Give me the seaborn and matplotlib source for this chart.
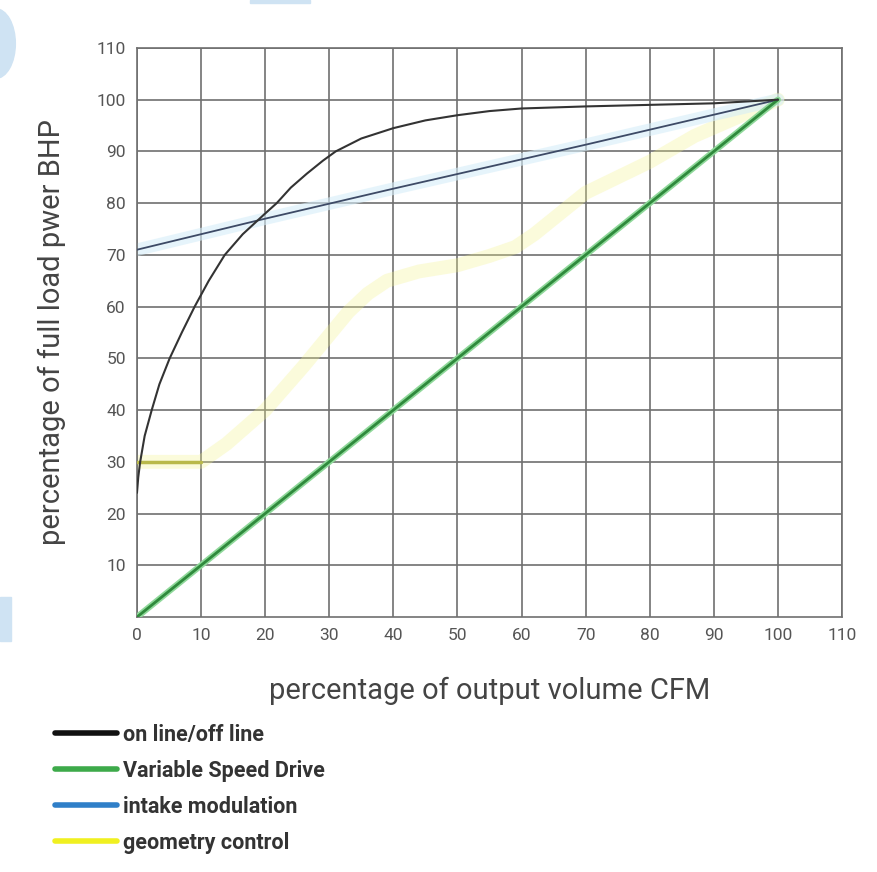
import pandas as pd
import matplotlib
matplotlib.use("Agg")
import matplotlib.pyplot as plt
import seaborn as sns
from matplotlib.lines import Line2D
from matplotlib.patches import Rectangle, Ellipse

# values
onoff_x = [0, 0.2, 0.5, 1.2, 2.3, 3.5, 5.1, 7, 9, 11.2, 13.7, 16.5, 20, 21.8, 24, 26.5,
           29, 31, 35, 40, 45, 50, 55, 60, 70, 80, 90, 100]
onoff_y = [24, 27, 30, 35, 40, 45, 50, 55, 60, 65, 70, 74, 78, 80, 83, 85.7,
           88.2, 90, 92.5, 94.5, 96, 97, 97.8, 98.3, 98.7, 99, 99.3, 100]

vsd_x = [0, 100]
vsd_y = [0, 100]

intake_x = [0, 20, 40, 70, 100]
intake_y = [71, 77, 82.8, 91.3, 100]

geom_x = [0, 10, 14, 20, 26, 33, 36, 39, 44, 50, 55, 59, 62, 65, 70, 80, 87, 100]
geom_y = [30, 30, 33.5, 40, 48.5, 59, 62.5, 65, 66.8, 68, 69.8, 71.5, 74, 77, 82, 88, 93, 100]

ticks = list(range(0, 111, 10))
labels = ["on line/off line", "Variable Speed Drive", "intake modulation", "geometry control"]

sns.set_style("white")
plt.rcParams['font.family'] = ['Roboto', 'DejaVu Sans']

fig = plt.figure(figsize=(8.78, 8.72), dpi=100)
ax = fig.add_axes([0.156, 0.2924, 0.803, 0.6526])

onoff = pd.DataFrame({"x": onoff_x, "y": onoff_y})
vsd = pd.DataFrame({"x": vsd_x, "y": vsd_y})
intake = pd.DataFrame({"x": intake_x, "y": intake_y})
geom = pd.DataFrame({"x": geom_x, "y": geom_y})

# geometry control: pale wide band, olive flat start
sns.lineplot(data=geom, x="x", y="y", ax=ax, color="#f3f38a", alpha=0.3,
             linewidth=10, sort=False, zorder=2)
sns.lineplot(data=geom.iloc[:2], x="x", y="y", ax=ax, color="#b9b94a",
             linewidth=2.5, zorder=3)

# intake modulation: light blue glow with thin dark line
sns.lineplot(data=intake, x="x", y="y", ax=ax, color="#d6eef9", alpha=0.6,
             linewidth=9, zorder=2)
sns.lineplot(data=intake, x="x", y="y", ax=ax, color="#3d4a66", linewidth=1.3, zorder=4)

# variable speed drive
sns.lineplot(data=vsd, x="x", y="y", ax=ax, color="#8fd89a", linewidth=4.5, zorder=3)
sns.lineplot(data=vsd, x="x", y="y", ax=ax, color="#2f8a3c", linewidth=2, zorder=4)

# on line / off line
sns.lineplot(data=onoff, x="x", y="y", ax=ax, color="#333333", linewidth=1.5,
             sort=False, zorder=5)

ax.set_xlim(0, 110)
ax.set_ylim(0, 110)
ax.set_xticks(ticks)
ax.set_yticks(ticks[1:])
ax.grid(True, color="#707070", linewidth=1.2)
ax.set_axisbelow(True)
for s in ax.spines.values():
    s.set_color("#707070")
    s.set_linewidth(1.2)
ax.tick_params(axis="both", labelsize=12.5, colors="#555555", length=0, pad=8)
ax.set_xlabel("percentage of output volume CFM", fontsize=21, color="#444444", labelpad=24)
ax.set_ylabel("percentage of full load pwer BHP", fontsize=21, color="#444444", labelpad=22)

handles = [
    Line2D([], [], color="#111111", linewidth=4),
    Line2D([], [], color="#3daa4a", linewidth=4),
    Line2D([], [], color="#2f7fc8", linewidth=4),
    Line2D([], [], color="#f0f020", linewidth=4),
]
leg = fig.legend(handles, labels, loc="upper left", bbox_to_anchor=(0.0626, 0.170),
                 frameon=False, fontsize=15.5, handlelength=2.9, handletextpad=0.25,
                 labelspacing=0.65, borderpad=0, borderaxespad=0)
for t in leg.get_texts():
    t.set_fontweight("bold")
    t.set_color("#333333")

# light blue decorative shapes from the original graphic
fig.patches.append(Ellipse((-0.005, 0.95), 0.045, 0.08, transform=fig.transFigure,
                           color="#cfe3f3", zorder=0))
fig.patches.append(Rectangle((0.285, 0.996), 0.068, 0.004, transform=fig.transFigure,
                             color="#cfe3f3", zorder=0))
fig.patches.append(Rectangle((0.0, 0.265), 0.012, 0.05, transform=fig.transFigure,
                             color="#cfe3f3", zorder=0))

fig.savefig("out.png", dpi=100)
